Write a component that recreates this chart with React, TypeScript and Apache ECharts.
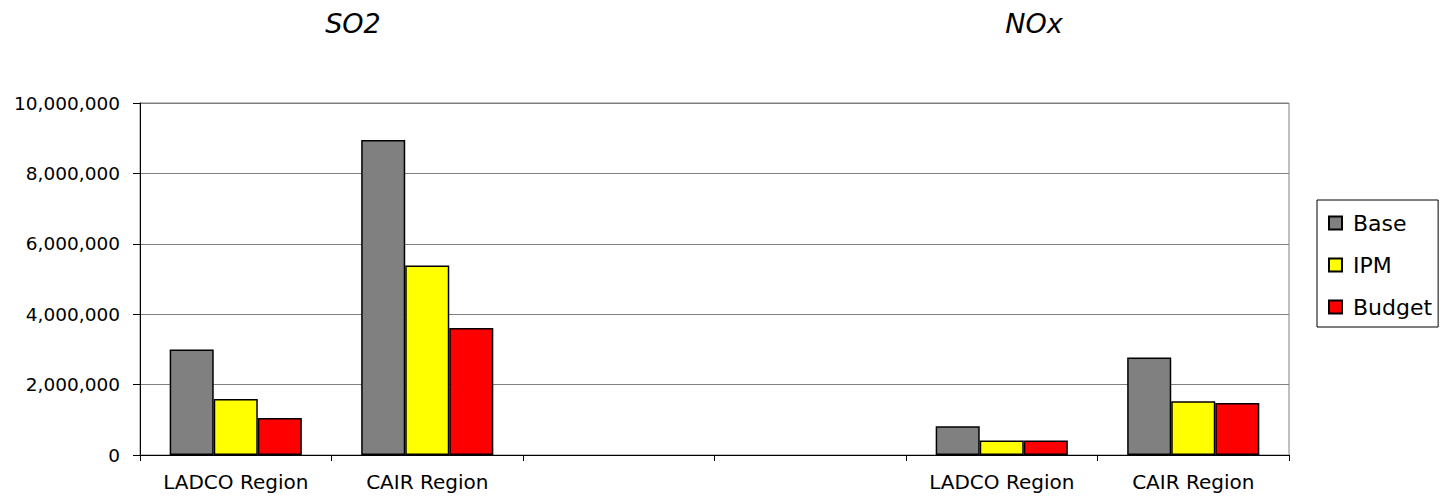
import React, { useEffect, useRef } from "react";
import * as echarts from "echarts";

const categories = ["LADCO Region", "CAIR Region", "", "", "LADCO Region", "CAIR Region"];
const baseValues = [3000000, 8950000, null, null, 820000, 2770000];
const ipmValues = [1590000, 5380000, null, null, 410000, 1530000];
const budgetValues = [1050000, 3610000, null, null, 410000, 1480000];
const seriesNames = ["Base", "IPM", "Budget"];
const seriesColors = ["#808080", "#ffff00", "#ff0000"];
const panelTitles = ["SO2", "NOx"];

const FONT = "'DejaVu Sans', sans-serif";

export default function App() {
  const ref = useRef<HTMLDivElement>(null);
  useEffect(() => {
    if (!ref.current) return;
    const chart = echarts.init(ref.current, null, { renderer: "svg" });
    const data = [baseValues, ipmValues, budgetValues];
    chart.setOption({
      animation: false,
      backgroundColor: "#ffffff",
      textStyle: { fontFamily: FONT },
      graphic: [
        {
          type: "text",
          x: 353,
          y: 23,
          style: {
            text: panelTitles[0],
            font: `oblique 27px ${FONT}`,
            fill: "#000",
            align: "center",
            verticalAlign: "middle",
          },
        },
        {
          type: "text",
          x: 1034,
          y: 23,
          style: {
            text: panelTitles[1],
            font: `oblique 27px ${FONT}`,
            fill: "#000",
            align: "center",
            verticalAlign: "middle",
          },
        },
      ],
      legend: {
        orient: "vertical",
        left: 1317,
        top: 200,
        padding: [12, 6, 9, 11],
        itemGap: 20,
        itemWidth: 13,
        itemHeight: 13,
        icon: "rect",
        borderColor: "#000",
        borderWidth: 1,
        textStyle: { fontSize: 22, color: "#000", fontFamily: FONT, padding: [0, 0, 0, 6] },
        data: seriesNames,
      },
      grid: {
        left: 140,
        right: 164,
        top: 103,
        bottom: 49,
        show: true,
        borderColor: "#808080",
        borderWidth: 1,
        containLabel: false,
      },
      xAxis: {
        type: "category",
        data: categories,
        axisLine: { show: true, lineStyle: { color: "#000", width: 1 } },
        axisTick: { show: true, interval: 0, length: 6, lineStyle: { color: "#000" } },
        axisLabel: { interval: 0, fontSize: 20, color: "#000", margin: 17, fontFamily: FONT },
        splitLine: { show: false },
      },
      yAxis: {
        type: "value",
        min: 0,
        max: 10000000,
        interval: 2000000,
        axisLine: { show: true, lineStyle: { color: "#000", width: 1 } },
        axisTick: { show: true, length: 7, lineStyle: { color: "#000" } },
        axisLabel: {
          fontSize: 18.5,
          color: "#000",
          margin: 20,
          fontFamily: FONT,
          formatter: (v: number) => v.toLocaleString("en-US"),
        },
        splitLine: { show: true, lineStyle: { color: "#808080", width: 1 } },
      },
      series: seriesNames.map((name, i) => ({
        name,
        type: "bar",
        data: data[i],
        barGap: "0%",
        barCategoryGap: "31%",
        itemStyle: { color: seriesColors[i], borderColor: "#000", borderWidth: 1.5 },
      })),
    });
    return () => chart.dispose();
  }, []);
  return <div ref={ref} style={{ width: 1453, height: 504, margin: -8 }} />;
}
